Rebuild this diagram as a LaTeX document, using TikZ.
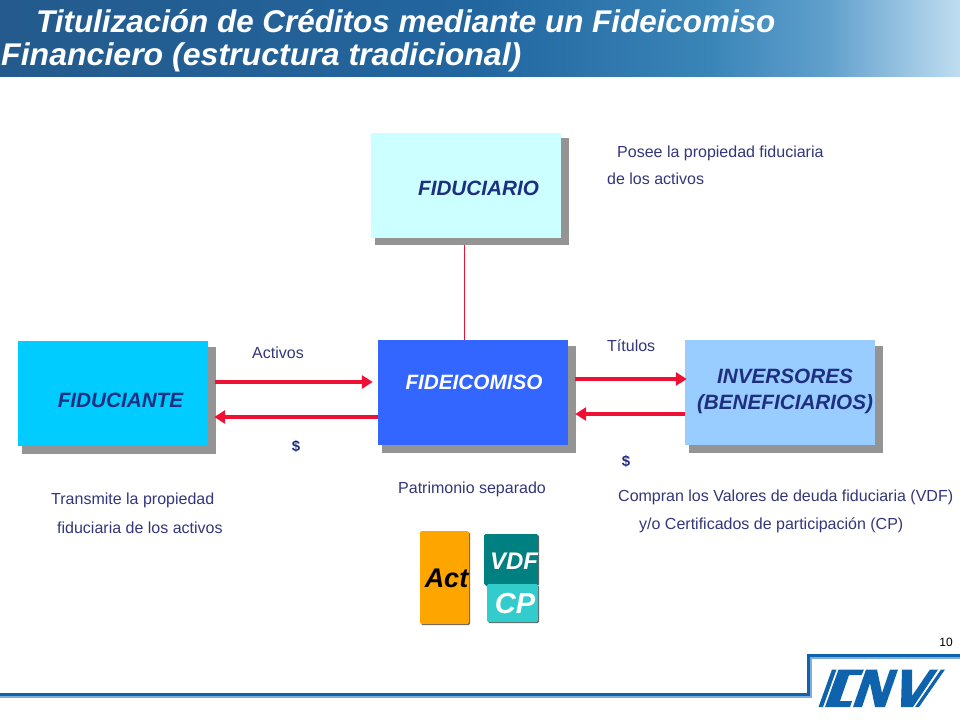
\documentclass[tikz,border=0pt]{standalone}
\usepackage{fontspec}
\setmainfont{Liberation Sans}
\usepackage{xcolor}
\usetikzlibrary{shadows,arrows.meta}
\definecolor{cnvblue}{HTML}{0F62AC}
\definecolor{cnvlight}{HTML}{7FAFD8}
\definecolor{labelblue}{HTML}{33367A}
\definecolor{boxblue}{HTML}{1F2F80}
\definecolor{arrowred}{HTML}{EE1133}
\definecolor{barA}{HTML}{245A8C}
\definecolor{barB}{HTML}{2266A0}
\definecolor{barC}{HTML}{3A85B8}
\definecolor{barD}{HTML}{5F9FCC}
\definecolor{barE}{HTML}{C0DDF0}
\pgfdeclarehorizontalshading{titlebar}{100bp}{
  color(0bp)=(barA); color(25bp)=(barA); color(50bp)=(barB); color(62bp)=(barC); color(68bp)=(barD); color(75bp)=(barE); color(100bp)=(barE)
}
\tikzset{
  bigbox/.style={minimum width=190pt, minimum height=105pt, inner sep=0pt,
    drop shadow={shadow xshift=5.5pt, shadow yshift=-6.5pt, shadow scale=1.02, fill=black!42, opacity=1}},
  boxtext/.style={font=\fontsize{20.7}{26}\selectfont\bfseries\itshape, text=boxblue, inner sep=0pt, align=center},
  note/.style={font=\fontsize{16}{18}\selectfont, text=labelblue, inner sep=0pt, anchor=west},
  dollar/.style={font=\fontsize{15}{17}\selectfont\bfseries, text=boxblue, inner sep=0pt},
  flow/.style={line width=3.2pt, draw=arrowred, -{Triangle[length=11pt,width=13pt]}},
  tile/.style={inner sep=0pt, rounded corners=1.5pt,
    drop shadow={shadow xshift=1pt, shadow yshift=-1pt, fill=black!60, opacity=1}},
  tiletext/.style={font=\bfseries\itshape, inner sep=0pt},
  titletext/.style={font=\fontsize{31.4}{36}\selectfont\bfseries\itshape, text=white, inner sep=0pt, anchor=west}
}
\begin{document}
\begin{tikzpicture}[x=1pt, y=-1pt]
  \useasboundingbox (0,0) rectangle (960,720);
  % title bar
  \fill[shading=titlebar] (0,0) rectangle (960,76);
  \node[titletext] (titleA) at (36,21) {Titulización de Créditos mediante un Fideicomiso};
  \node[titletext, transform shape, xscale=1.021] (titleB) at (1,57.5) {Financiero (estructura tradicional)};
  % boxes
  \node[bigbox, fill={rgb,255:red,204;green,255;blue,255}] (fiduciario) at (466,185) {};
  \node[bigbox, fill={rgb,255:red,0;green,204;blue,255}] (fiduciante) at (113,393.5) {};
  \node[bigbox, fill={rgb,255:red,51;green,102;blue,255}] (fideicomiso) at (473,392.5) {};
  \node[bigbox, fill={rgb,255:red,153;green,204;blue,255}] (inversores) at (780,392.5) {};
  \node[boxtext] (fiduciariotext) at (478.5,188) {FIDUCIARIO};
  \node[boxtext] (fiduciantetext) at (120.5,400) {FIDUCIANTE};
  \node[boxtext, text=white] (fideicomisotext) at (474,382) {FIDEICOMISO};
  \node[boxtext] (inversorestext) at (785,391.5) {INVERSORES\\(BENEFICIARIOS)};
  % connectors
  \draw[arrowred, line width=0.8pt] ([xshift=-1.5pt,yshift=-7pt]fiduciario.south) -- ([xshift=-1.5pt]fiduciario.south |- fideicomiso.north);
  \draw[flow] ([xshift=7pt,yshift=11.5pt]fiduciante.east) -- ([xshift=-5pt,yshift=10.5pt]fideicomiso.west);
  \draw[flow] ([yshift=-24.5pt]fideicomiso.west) -- ([xshift=6pt,yshift=-23.5pt]fiduciante.east);
  \draw[flow] ([xshift=7pt,yshift=13.5pt]fideicomiso.east) -- ([xshift=2pt,yshift=13.5pt]inversores.west);
  \draw[flow] ([yshift=-21.5pt]inversores.west) -- ([xshift=7pt,yshift=-21.5pt]fideicomiso.east);
  % labels
  \node[note] (posee) at (617,153) {Posee la propiedad fiduciaria};
  \node[note] (activos) at (607,179) {de los activos};
  \node[note] (act) at (252,353) {Activos};
  \node[note] (titulos) at (607,345.5) {Títulos};
  \node[dollar] (dollarA) at (296,446) {\$};
  \node[dollar] (dollarB) at (626,461) {\$};
  \node[note] (transmite) at (51,500) {Transmite la propiedad};
  \node[note] (fiduciaria) at (57,528) {fiduciaria de los activos};
  \node[note] (patrimonio) at (398,489) {Patrimonio separado};
  \node[note] (compran) at (618,497) {Compran los Valores de deuda fiduciaria (VDF)};
  \node[note] (certificados) at (639,525) {y/o Certificados de participación (CP)};
  % tiles
  \node[tile, fill={rgb,255:red,255;green,165;blue,0}, minimum width=49pt, minimum height=93pt] (acttile) at (444.5,577.5) {};
  \node[tile, fill={rgb,255:red,0;green,128;blue,128}, minimum width=54pt, minimum height=51pt] (vdftile) at (511,559.5) {};
  \node[tile, fill={rgb,255:red,51;green,204;blue,204}, minimum width=51pt, minimum height=38pt] (cptile) at (512.5,603) {};
  \node[tiletext, font=\fontsize{27}{30}\selectfont\bfseries\itshape, text=black] at (446.5,578) {Act};
  \node[tiletext, font=\fontsize{24}{26}\selectfont\bfseries\itshape, text=white] at (514,561) {VDF};
  \node[tiletext, font=\fontsize{29}{30}\selectfont\bfseries\itshape, text=white] at (515,604) {CP};
  % footer and logo
  \node[font=\fontsize{12}{14}\selectfont, inner sep=0pt] (page) at (946,642) {10};
  \draw[cnvlight, line width=2pt] (0,696.5) -- (811,696.5) -- (811,658) -- (960,658);
  \draw[cnvblue, line width=3pt] (0,694) -- (808,694) -- (808,655) -- (960,655);
  \fill[cnvblue] (832,669.5) -- (836.5,669.5) -- (823,707) -- (818.5,707) -- cycle;
  \fill[cnvblue] (838.5,669.5) -- (864,669.5) -- (861.5,675) -- (849,675) -- (840,701) -- (852,701) -- (850,707) -- (825,707) -- cycle;
  \fill[cnvblue] (866,669.5) -- (877,669.5) -- (882,693) -- (890,669.5) -- (898,669.5) -- (885,707) -- (875,707) -- (870,683) -- (862,707) -- (853,707) -- cycle;
  \fill[cnvblue] (902,669.5) -- (912,669.5) -- (912,696) -- (930,669.5) -- (938,669.5) -- (913,707) -- (901,707) -- cycle;
  \fill[cnvblue] (941,669.5) -- (945,669.5) -- (919,707) -- (915,707) -- cycle;
\end{tikzpicture}
\end{document}
